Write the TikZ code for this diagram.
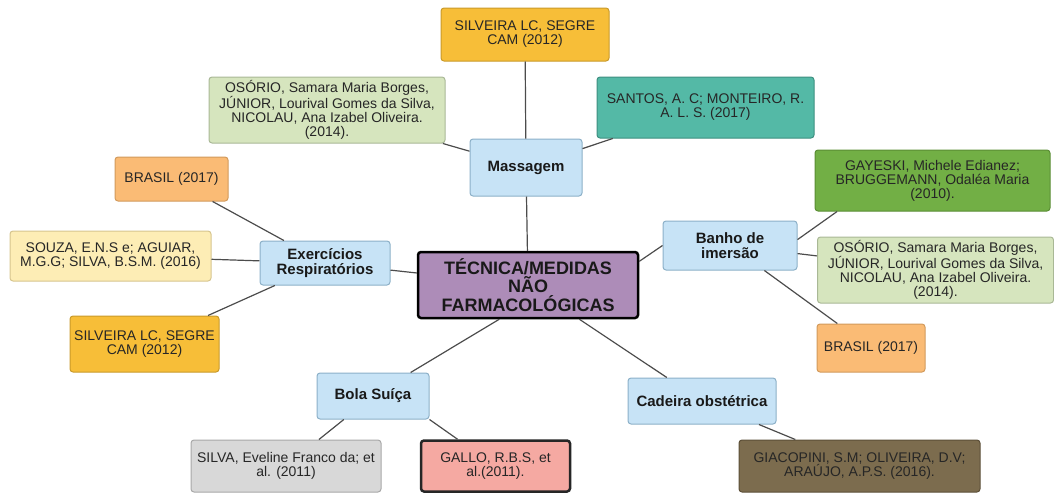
\documentclass[tikz,border=0pt]{standalone}
\usepackage{fontspec}
\setmainfont{Liberation Sans}
\usepackage{tikz}
\usetikzlibrary{shapes,arrows}

\definecolor{topicfill}{HTML}{C7E3F6}
\definecolor{topicline}{HTML}{8CB0C8}
\definecolor{goldfill}{HTML}{F7BE38}
\definecolor{goldline}{HTML}{C99A2A}
\definecolor{palegreen}{HTML}{D6E5BE}
\definecolor{palegreenline}{HTML}{A9B896}
\definecolor{tealfill}{HTML}{54B9A6}
\definecolor{tealline}{HTML}{3D8F80}
\definecolor{orangefill}{HTML}{FABB75}
\definecolor{orangeline}{HTML}{D29A5C}
\definecolor{paleyellow}{HTML}{FDEDB5}
\definecolor{paleyellowline}{HTML}{D6C58E}
\definecolor{mauvefill}{HTML}{AD8CB8}
\definecolor{greenfill}{HTML}{72AF45}
\definecolor{greenline}{HTML}{5A8D34}
\definecolor{grayfill}{HTML}{D8D8D8}
\definecolor{grayline}{HTML}{A8A8A8}
\definecolor{salmonfill}{HTML}{F5A9A2}
\definecolor{olivefill}{HTML}{7C6C4E}
\definecolor{oliveline}{HTML}{5C4F38}

\tikzstyle{ref} = [draw, rounded corners=3pt, align=center, inner sep=0pt, line width=1pt, text=black!85, font=\fontsize{14}{14}\selectfont]
\tikzstyle{topic} = [ref, fill=topicfill, draw=topicline, text=black!90, font=\bfseries\fontsize{15}{15}\selectfont]
\tikzstyle{link} = [draw, line width=1.2pt, black!70]

\begin{document}
\begin{tikzpicture}[x=1pt, y=-1pt]
\useasboundingbox (0,0) rectangle (1054,493);

\node[ref, draw=black, line width=2.5pt, fill=mauvefill, minimum width=220, minimum height=66, text=black!90, font=\bfseries\fontsize{18}{18.5}\selectfont] at (528,285) (central) {TÉCNICA/MEDIDAS\\NÃO\\FARMACOLÓGICAS};

% massagem
\node[topic, minimum width=112, minimum height=57] at (526,167.5) (massagem) {Massagem};
\node[ref, fill=goldfill, draw=goldline, minimum width=168, minimum height=53] at (525,34.5) (silvtop) {SILVEIRA LC, SEGRE\\CAM (2012)};
\node[ref, fill=palegreen, draw=palegreenline, minimum width=236, minimum height=66] at (327,110) (osoriotop) {OSÓRIO, Samara Maria Borges,\\JÚNIOR, Lourival Gomes da Silva,\\NICOLAU, Ana Izabel Oliveira.\\(2014).};
\node[ref, fill=tealfill, draw=tealline, minimum width=217, minimum height=61] at (705.5,107.5) (santos) {SANTOS, A. C; MONTEIRO, R.\\A. L. S. (2017)};
\path[link] (massagem) -- (silvtop);
\path[link] (massagem) -- (central);
\path[link] (massagem) -- (osoriotop);
\path[link] (massagem) -- (santos);

% exercicios
\node[topic, minimum width=130, minimum height=44] at (325,263) (exerc) {Exercícios\\Respiratórios};
\node[ref, fill=orangefill, draw=orangeline, minimum width=113, minimum height=44] at (171.5,179) (brasilL) {BRASIL (2017)};
\node[ref, fill=paleyellow, draw=paleyellowline, minimum width=201, minimum height=50] at (110.5,256) (souza) {SOUZA, E.N.S e; AGUIAR,\\M.G.G; SILVA, B.S.M. (2016)};
\node[ref, fill=goldfill, draw=goldline, minimum width=149, minimum height=56] at (144.5,344) (silvL) {SILVEIRA LC, SEGRE\\CAM (2012)};
\path[link] (exerc) -- (brasilL);
\path[link] (exerc) -- (souza);
\path[link] (exerc) -- (silvL);
\path[link] (exerc) -- (central);

% banho
\node[topic, minimum width=134, minimum height=49] at (730,245.5) (banho) {Banho de\\imersão};
\node[ref, fill=greenfill, draw=greenline, minimum width=235, minimum height=61] at (932.5,180.5) (gayeski) {GAYESKI, Michele Edianez;\\BRUGGEMANN, Odaléa Maria\\(2010).};
\node[ref, fill=palegreen, draw=palegreenline, minimum width=236, minimum height=66] at (935.5,270) (osorioR) {OSÓRIO, Samara Maria Borges,\\JÚNIOR, Lourival Gomes da Silva,\\NICOLAU, Ana Izabel Oliveira.\\(2014).};
\node[ref, fill=orangefill, draw=orangeline, minimum width=108, minimum height=48] at (871,348) (brasilR) {BRASIL (2017)};
\path[link] (central.12) -- (banho.west);
\path[link] (banho.5) -- (gayeski.198);
\path[link] (banho) -- (osorioR);
\path[link] (banho) -- (brasilR);

% bola
\node[topic, minimum width=112, minimum height=46] at (373,396) (bola) {Bola Suíça};
\node[ref, fill=grayfill, draw=grayline, minimum width=190, minimum height=52] at (286,466) (silva) {SILVA, Eveline Franco da; et\\al. (2011)};
\node[ref, fill=salmonfill, draw=black!85, line width=2.5pt, minimum width=149, minimum height=51] at (495.5,466) (gallo) {GALLO, R.B.S, et\\al.(2011).};
\path[link] (central.230) -- (bola.32);
\path[link] (bola) -- (silva);
\path[link] (bola.south east) -- (gallo);

% cadeira
\node[topic, minimum width=148, minimum height=46] at (702,401) (cadeira) {Cadeira obstétrica};
\node[ref, fill=olivefill, draw=oliveline, minimum width=241, minimum height=52] at (859.5,466) (giacopini) {GIACOPINI, S.M; OLIVEIRA, D.V;\\ARAÚJO, A.P.S. (2016).};
\path[link] (central) -- (cadeira);
\path[link] (cadeira) -- (giacopini);
\end{tikzpicture}
\end{document}
